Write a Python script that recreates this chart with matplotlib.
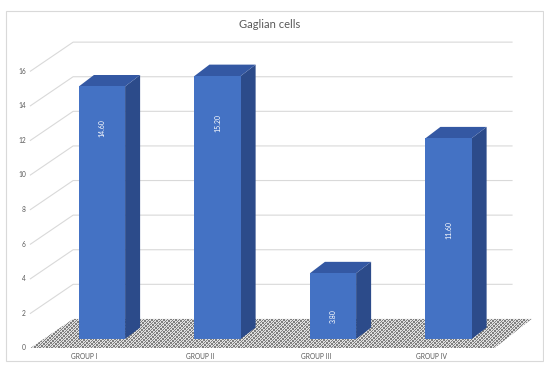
import numpy as np
import matplotlib
matplotlib.use("Agg")
import matplotlib.pyplot as plt
from matplotlib.patches import Polygon, Rectangle

# ---- data ----
groups = ["GROUP I", "GROUP II", "GROUP III", "GROUP IV"]
values = [14.60, 15.20, 3.80, 11.60]
y_ticks = [0, 2, 4, 6, 8, 10, 12, 14, 16]
title = "Gaglian cells"

# height (in value units) at which each rotated value label sits
label_heights = [12.2, 12.5, 1.3, 6.3]

# ---- style ----
FRONT = "#4472C4"
SIDE = "#2C4B8A"
TOP = "#3458A3"
GRID = "#d9d9d9"
TEXT = "#595959"
plt.rcParams["font.family"] = ["Lato", "DejaVu Sans"]

W, H, DPI = 544, 365, 100
fig = plt.figure(figsize=(W / DPI, H / DPI), dpi=DPI)
ax = fig.add_axes([0, 0, 1, 1])
ax.set_axis_off()

# data frame: x in category units, y in value units (front plane of the bars)
x_px0, x_step = 102.0, 115.5
y_px0, y_step = 339.0, 17.3
xlim = ((0 - x_px0) / x_step, (W - x_px0) / x_step)
ylim = ((y_px0 - H) / y_step, (y_px0 - 0) / y_step)

# chart border
fig.patches.append(Rectangle((6 / W, 4 / H), 537 / W, 350 / H,
                             transform=fig.transFigure, fill=False,
                             edgecolor="#d9d9d9", linewidth=0.8))

# 3-D frame geometry (category / value units)
front_y0 = -0.52          # floor front edge
back_y0 = 1.16            # floor back edge
left_front, left_back = -0.62, -0.25
right_front, right_back = 3.40, 3.72
wall_right = 3.55

# back-wall gridlines with their diagonal run to the front
for v in y_ticks[1:]:
    ax.plot([left_front, left_back, wall_right],
            [v + front_y0, v + back_y0, v + back_y0],
            color=GRID, linewidth=0.8, zorder=1, solid_joinstyle="miter")

# floor with a fine dotted texture
floor_xy = [(left_front, front_y0), (right_front, front_y0),
            (right_back, back_y0), (left_back, back_y0)]
floor = Polygon(floor_xy, closed=True, facecolor="none", edgecolor="none",
                zorder=2)
ax.add_patch(floor)
yy, xx = np.mgrid[0:H, 0:W]
dark = ((xx + yy) % 3 == 0) | ((xx - yy) % 4 == 0)
tex = np.where(dark, 0.50, 0.88)
img = ax.imshow(np.dstack([tex, tex, tex]), extent=(*xlim, *ylim),
                origin="upper", interpolation="nearest", aspect="auto", zorder=2)
img.set_clip_path(floor)
ax.set_xlim(*xlim)
ax.set_ylim(*ylim)

# bars: front face, right side and top
bw = 0.40
ddx, ddy = 0.13, 0.66
xs = np.arange(len(values))
ax.bar(xs, values, width=bw, color=FRONT, zorder=4, linewidth=0)
for x, v in zip(xs, values):
    r, l = x + bw / 2, x - bw / 2
    ax.add_patch(Polygon([(r, 0), (r + ddx, ddy), (r + ddx, v + ddy), (r, v)],
                         closed=True, facecolor=SIDE, edgecolor="none", zorder=3))
    ax.add_patch(Polygon([(l, v), (r, v), (r + ddx, v + ddy), (l + ddx, v + ddy)],
                         closed=True, facecolor=TOP, edgecolor="none", zorder=3))

# value labels inside the bars
for x, v, h in zip(xs, values, label_heights):
    ax.text(x, h, f"{v:.2f}", rotation=90, ha="center", va="center",
            color="white", fontsize=5, zorder=6)

# value axis labels
for v in y_ticks:
    ax.text(left_front - 0.04, v + front_y0, str(v), ha="right", va="center",
            color=TEXT, fontsize=4.8)

# category labels
for x, g in zip(xs, groups):
    ax.text(x - 0.15, front_y0 - 0.52, g, ha="center", va="center",
            color=TEXT, fontsize=4.8)

fig.text(270 / W, 1 - 24 / H, title, ha="center", va="center",
         color=TEXT, fontsize=8)

fig.savefig("out.png", dpi=DPI)
